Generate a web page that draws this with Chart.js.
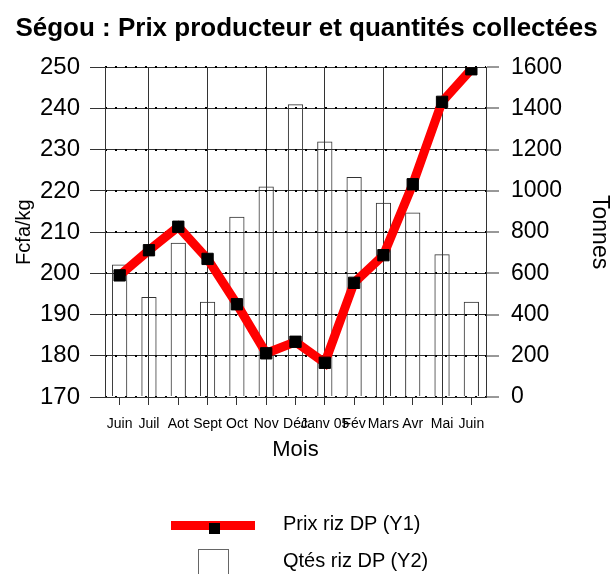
<!DOCTYPE html>
<html lang="fr">
<head>
  <meta charset="UTF-8">
  <title>Ségou : Prix producteur et quantités collectées</title>
  <script src="https://cdn.jsdelivr.net/npm/chart.js"></script>
  <style>
    html, body {
      margin: 0;
      padding: 0;
      background: #fff;
      font-family: 'Liberation Sans', Arial, sans-serif;
      overflow: hidden;
    }
    .wrap {
      position: relative;
      width: 613px;
      height: 574px;
    }
    .leg-line {
      position: absolute;
      left: 171px; top: 521px;
      width: 84px; height: 9px;
      background: #ff0000;
    }
    .leg-mark {
      position: absolute;
      left: 209px; top: 523px;
      width: 11px; height: 11px;
      background: #000;
    }
    .leg-box {
      position: absolute;
      left: 198px; top: 549px;
      width: 29px; height: 30px;
      border: 1px solid #666;
      background: #fff;
    }
    .leg-text {
      position: absolute;
      left: 283px;
      font-size: 20px;
      color: #000;
      white-space: nowrap;
    }
  </style>
</head>
<body>
<div class="wrap">
  <canvas id="chart" width="613" height="574"></canvas>

  <!-- legend -->
  <div class="leg-line"></div>
  <div class="leg-mark"></div>
  <div class="leg-text" style="top: 512px;">Prix riz DP (Y1)</div>
  <div class="leg-box"></div>
  <div class="leg-text" style="top: 549px;">Qtés riz DP (Y2)</div>
</div>

<script>
  const mois = ['Juin', 'Juil', 'Aot', 'Sept', 'Oct', 'Nov', 'Déc', 'Janv 05', 'Fév', 'Mars', 'Avr', 'Mai', 'Juin'];
  // Fcfa/kg
  const prixRiz = [199.5, 205.6, 211.3, 203.5, 192.5, 180.6, 183.4, 178.3, 197.7, 204.4, 221.6, 241.6, 249.5];
  // tonnes
  const qtesRiz = [643, 485, 748, 462, 874, 1021, 1420, 1240, 1067, 942, 895, 692, 462];

  const FONT = "'Liberation Sans', Arial, sans-serif";

  new Chart(document.getElementById('chart'), {
    data: {
      labels: mois,
      datasets: [
        {
          type: 'line',
          label: 'Prix riz DP (Y1)',
          data: prixRiz,
          yAxisID: 'y',
          order: 0,
          borderColor: '#ff0000',
          borderWidth: 9,
          tension: 0,
          pointStyle: 'rect',
          pointRadius: 8,
          pointBackgroundColor: '#000',
          pointBorderColor: '#000',
          pointBorderWidth: 1
        },
        {
          type: 'bar',
          label: 'Qtés riz DP (Y2)',
          data: qtesRiz,
          yAxisID: 'y2',
          order: 1,
          backgroundColor: 'rgba(255,255,255,0)',
          borderColor: '#333',
          borderWidth: 1,
          categoryPercentage: 1,
          barPercentage: 0.52
        }
      ]
    },
    options: {
      responsive: false,
      animation: false,
      layout: { padding: { left: 0, right: 0, top: 0, bottom: 109 } },
      plugins: {
        legend: { display: false },
        tooltip: { enabled: false },
        title: {
          display: true,
          text: 'Ségou : Prix producteur et quantités collectées',
          color: '#000',
          font: { family: FONT, size: 26, weight: 'bold' },
          padding: { top: 13, bottom: 23 }
        }
      },
      scales: {
        x: {
          offset: true,
          afterFit: s => { s.height = 68; },
          grid: {
            offset: false,
            color: c => c.index % 2 === 1 ? '#333' : 'rgba(0,0,0,0)',
            tickColor: '#333',
            tickLength: 8
          },
          border: { color: '#333' },
          ticks: {
            color: '#000',
            autoSkip: false,
            maxRotation: 0,
            minRotation: 0,
            padding: 11,
            font: { family: FONT, size: 14 }
          },
          title: {
            display: true,
            text: 'Mois',
            color: '#000',
            font: { family: FONT, size: 22 },
            padding: { top: 0, bottom: 2 }
          }
        },
        y: {
          position: 'left',
          min: 170,
          max: 250,
          afterFit: s => { s.width = 105; },
          grid: { color: '#333', lineWidth: 1, tickLength: 15 },
          border: { color: '#333' },
          ticks: {
            stepSize: 10,
            color: '#000',
            padding: 10,
            font: { family: FONT, size: 24 }
          },
          title: {
            display: true,
            text: 'Fcfa/kg',
            color: '#000',
            font: { family: FONT, size: 20 },
            padding: { top: 12, bottom: 0 }
          }
        },
        y2: {
          position: 'right',
          min: 0,
          max: 1600,
          afterFit: s => { s.width = 127; },
          grid: {
            color: '#000',
            lineWidth: 2,
            tickColor: '#333',
            tickWidth: 1,
            tickLength: 13
          },
          border: { color: '#333', dash: [2, 8] },
          ticks: {
            stepSize: 200,
            color: '#000',
            padding: 12,
            font: { family: FONT, size: 23 },
            callback: v => String(v)
          },
          title: {
            display: true,
            text: 'Tonnes',
            color: '#000',
            font: { family: FONT, size: 23 },
            padding: { top: 0, bottom: 0 }
          }
        }
      }
    }
  });
</script>
</body>
</html>
